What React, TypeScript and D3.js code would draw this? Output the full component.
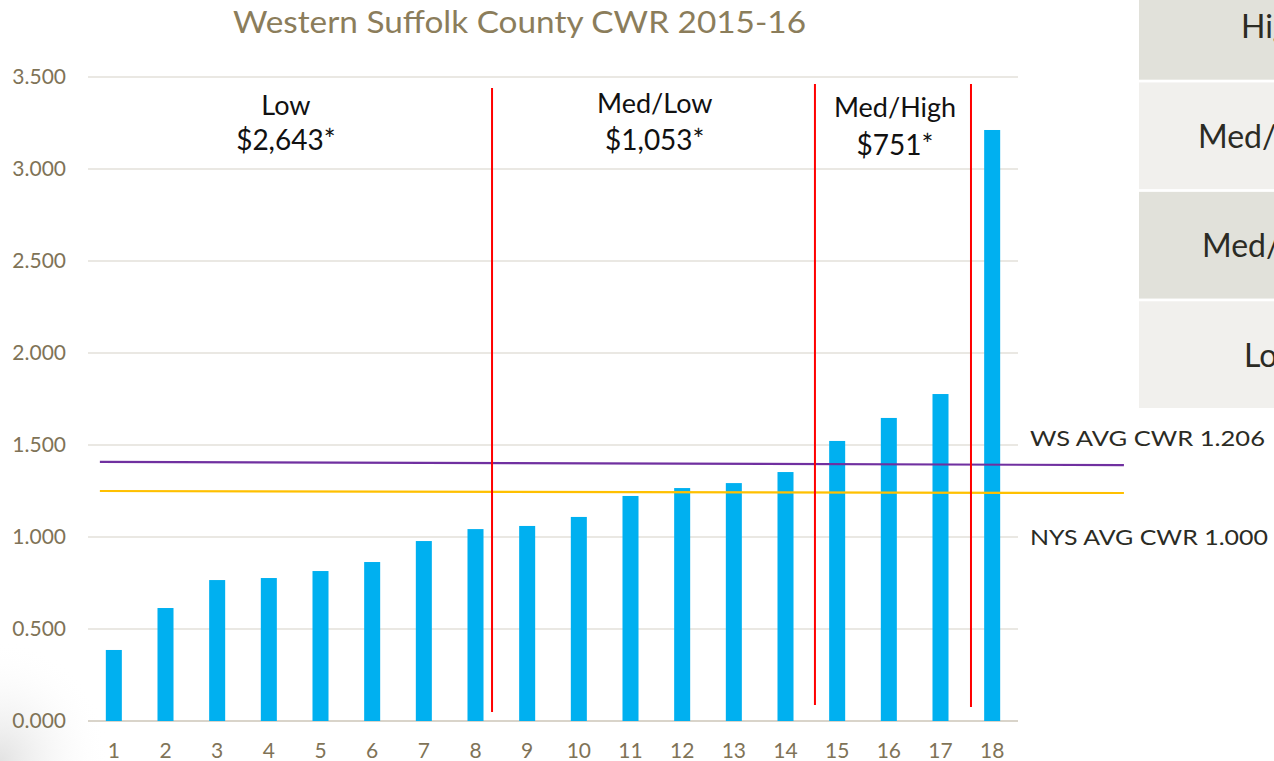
import React, { useRef, useEffect } from 'react';
import * as d3 from 'd3';

const title = 'Western Suffolk County CWR 2015-16';
const categories = ['1', '2', '3', '4', '5', '6', '7', '8', '9', '10', '11', '12', '13', '14', '15', '16', '17', '18'];
const cwrValues = [0.386, 0.614, 0.766, 0.777, 0.815, 0.864, 0.978, 1.043, 1.06, 1.109, 1.223, 1.266, 1.293, 1.353, 1.522, 1.647, 1.777, 3.212];
const yTicks = [0, 0.5, 1, 1.5, 2, 2.5, 3, 3.5];

// average lines, [start, end] in category position / value
const wsAvgLine = { from: [0.73, 1.408], to: [20.55, 1.391] };
const nysAvgLine = { from: [0.73, 1.25], to: [20.55, 1.239] };
const avgLabels = ['WS AVG CWR 1.206', 'NYS AVG CWR 1.000'];

// red group dividers (category position, top value, bottom value)
const dividers = [
  { pos: 8.32, top: 3.44, bottom: 0.049 },
  { pos: 14.57, top: 3.462, bottom: 0.087 },
  { pos: 17.59, top: 3.462, bottom: 0.076 },
];
const groupNames = ['Low', 'Med/Low', 'Med/High'];
const groupAmounts = ['$2,643*', '$1,053*', '$751*'];
const groupCenters = [4.33, 11.47, 16.12];

const tableRows = ['High', 'Med/High', 'Med/Low', 'Low'];

const FONT = 'Lato, "Open Sans", sans-serif';

const App = () => {
  const svgRef = useRef(null);
  const width = 1274;
  const height = 761;

  useEffect(() => {
    const svg = d3.select(svgRef.current);
    svg.selectAll('*').remove();

    // faint corner shading
    const defs = svg.append('defs');
    const rg = defs.append('radialGradient')
      .attr('id', 'corner-shade')
      .attr('cx', '0%').attr('cy', '100%').attr('r', '100%');
    rg.append('stop').attr('offset', '0%').attr('stop-color', '#e2e2e2');
    rg.append('stop').attr('offset', '100%').attr('stop-color', '#ffffff').attr('stop-opacity', 0);
    svg.append('rect').attr('x', 0).attr('y', 640).attr('width', 110).attr('height', 121)
      .attr('fill', 'url(#corner-shade)');

    const x = d3.scaleBand()
      .domain(categories)
      .range([88, 1018])
      .paddingInner(0.69)
      .paddingOuter(0.345);
    const xPos = d3.scaleLinear().domain([0.5, 18.5]).range([88, 1018]);
    const y = d3.scaleLinear().domain([0, 3.5]).range([721, 77]);

    // right table (top row runs off the top edge)
    const rowY = d3.scaleBand().domain(tableRows).range([-27, 408]).paddingInner(0.025);
    const rowTextX = [1241, 1198, 1202, 1244];
    svg.selectAll('rect.row')
      .data(tableRows)
      .join('rect')
      .attr('class', 'row')
      .attr('x', 1139)
      .attr('y', d => rowY(d))
      .attr('width', width - 1139)
      .attr('height', rowY.bandwidth())
      .attr('fill', (d, i) => (i % 2 === 0 ? '#e1e1da' : '#f1f0ed'));
    svg.selectAll('text.row')
      .data(tableRows)
      .join('text')
      .attr('class', 'row')
      .attr('x', (d, i) => rowTextX[i])
      .attr('y', d => rowY(d) + rowY.bandwidth() / 2 + 12)
      .attr('font-family', FONT)
      .attr('font-size', 32)
      .attr('fill', '#2b2b24')
      .text(d => d);

    // grid
    svg.selectAll('line.grid')
      .data(yTicks)
      .join('line')
      .attr('class', 'grid')
      .attr('x1', 88)
      .attr('x2', 1018)
      .attr('y1', d => y(d))
      .attr('y2', d => y(d))
      .attr('stroke', d => (d === 0 ? '#d9d4ca' : '#e3e0da'))
      .attr('stroke-width', d => (d === 0 ? 2 : 1.3));

    svg.selectAll('text.ytick')
      .data(yTicks)
      .join('text')
      .attr('class', 'ytick')
      .attr('x', 66)
      .attr('y', d => y(d) + 7)
      .attr('text-anchor', 'end')
      .attr('font-family', FONT)
      .attr('font-size', 21)
      .attr('fill', '#7f7357')
      .text(d => d3.format('.3f')(d));

    svg.selectAll('text.xtick')
      .data(categories)
      .join('text')
      .attr('class', 'xtick')
      .attr('x', d => x(d) + x.bandwidth() / 2)
      .attr('y', 758)
      .attr('text-anchor', 'middle')
      .attr('font-family', FONT)
      .attr('font-size', 21)
      .attr('fill', '#7f7357')
      .text(d => d);

    // bars
    svg.selectAll('rect.bar')
      .data(cwrValues)
      .join('rect')
      .attr('class', 'bar')
      .attr('x', (d, i) => x(categories[i]))
      .attr('y', d => y(d))
      .attr('width', x.bandwidth())
      .attr('height', d => y(0) - y(d))
      .attr('fill', '#00b0f0');

    // average lines
    const line = d3.line().x(d => xPos(d[0])).y(d => y(d[1]));
    [[wsAvgLine, '#7030a0'], [nysAvgLine, '#ffc000']].forEach(([l, c]) => {
      svg.append('path')
        .attr('d', line([l.from, l.to]))
        .attr('stroke', c)
        .attr('stroke-width', 2.2)
        .attr('fill', 'none');
    });

    // dividers
    svg.selectAll('line.divider')
      .data(dividers)
      .join('line')
      .attr('class', 'divider')
      .attr('x1', d => xPos(d.pos))
      .attr('x2', d => xPos(d.pos))
      .attr('y1', d => y(d.top))
      .attr('y2', d => y(d.bottom))
      .attr('stroke', '#ff0000')
      .attr('stroke-width', 2);

    // group labels
    const nameY = [115, 113, 117];
    const amtY = [150, 150, 155];
    groupNames.forEach((n, i) => {
      svg.append('text')
        .attr('x', xPos(groupCenters[i]))
        .attr('y', nameY[i])
        .attr('text-anchor', 'middle')
        .attr('font-family', FONT)
        .attr('font-size', 27)
        .attr('fill', '#111')
        .text(n);
      svg.append('text')
        .attr('x', xPos(groupCenters[i]))
        .attr('y', amtY[i])
        .attr('text-anchor', 'middle')
        .attr('font-family', FONT)
        .attr('font-size', 28)
        .attr('fill', '#111')
        .text(groupAmounts[i]);
    });

    // average labels
    const labY = [446, 545];
    const labLen = [235, 238];
    avgLabels.forEach((t, i) => {
      svg.append('text')
        .attr('x', 1030)
        .attr('y', labY[i])
        .attr('font-family', FONT)
        .attr('font-size', 22)
        .attr('fill', '#2b2b24')
        .attr('textLength', labLen[i])
        .attr('lengthAdjust', 'spacingAndGlyphs')
        .text(t);
    });

    // title
    svg.append('text')
      .attr('x', 233)
      .attr('y', 33)
      .attr('font-family', FONT)
      .attr('font-size', 31)
      .attr('fill', '#8b7d5b')
      .attr('textLength', 573)
      .attr('lengthAdjust', 'spacingAndGlyphs')
      .text(title);
  }, []);

  return (
    <div style={{ position: 'absolute', left: 0, top: 0 }}>
      <svg ref={svgRef} width={width} height={height} style={{ display: 'block', background: '#fff' }} />
    </div>
  );
};

export default App;
